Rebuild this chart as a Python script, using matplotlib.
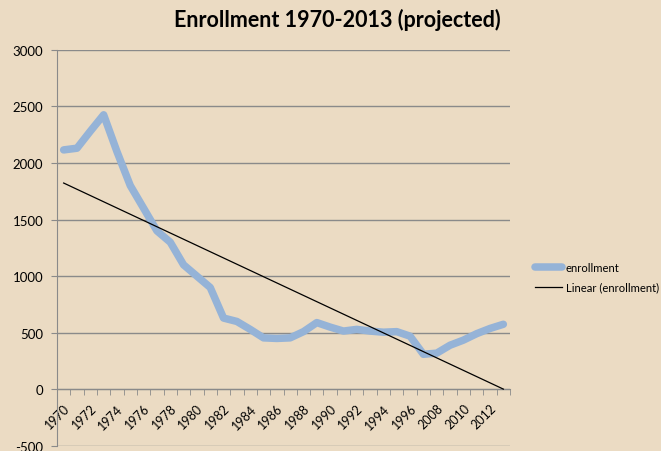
import numpy as np
import matplotlib
matplotlib.use("Agg")
import matplotlib.pyplot as plt
from matplotlib.ticker import FixedLocator

years = [str(y) for y in range(1970, 1997)] + [str(y) for y in range(2007, 2014)]
enrollment = [2115, 2130, 2280, 2425, 2100, 1800, 1600, 1400, 1300, 1100,
              1000, 900, 630, 600, 530, 455, 450, 455, 510, 590,
              550, 515, 530, 515, 505, 510, 470, 310, 320, 390,
              435, 492, 538, 575]
tick_labels = [y if i % 2 == 0 else "" for i, y in enumerate(years)]
yticks = [-500, 0, 500, 1000, 1500, 2000, 2500, 3000]

bg = "#EBDBC3"
blue = "#95B3D7"
grey = "#8A8A8A"
font = "Lato"

fig = plt.figure(figsize=(6.61, 4.52), dpi=100, facecolor=bg)
ax = fig.add_axes([57/661, 5/452, (510-57)/661, (447-50.7)/452])
ax.set_facecolor(bg)

x = np.arange(len(years))
ax.plot(x, enrollment, color=blue, lw=5.4, solid_joinstyle="round",
        solid_capstyle="round", label="enrollment", zorder=3)
coef = np.polyfit(x, enrollment, 1)
ax.plot(x, np.polyval(coef, x), color="black", lw=0.9,
        label="Linear (enrollment)", zorder=4)

ax.set_xlim(-0.5, len(years) - 0.5)
ax.set_ylim(-500, 3000)
ax.set_yticks(yticks)
ax.set_yticklabels([str(v) for v in yticks], fontsize=9.5, family=font)
ax.yaxis.grid(True, color=grey, lw=1)
ax.set_axisbelow(True)

for s in ["top", "right"]:
    ax.spines[s].set_visible(False)
ax.spines["left"].set_color(grey)
ax.spines["bottom"].set_position(("data", 0))
ax.spines["bottom"].set_color(grey)
ax.tick_params(axis="y", length=4, color=grey, pad=6)

ax.set_xticks(x)
ax.set_xticklabels(tick_labels, rotation=45, ha="right",
                   rotation_mode="anchor", fontsize=9, family=font)
ax.xaxis.set_minor_locator(FixedLocator(np.arange(-0.5, len(years), 1)))
ax.tick_params(axis="x", which="major", length=0, pad=9)
ax.tick_params(axis="x", which="minor", length=4, color=grey)

fig.text(337/661, 1 - 20/452, "Enrollment 1970-2013 (projected)",
         ha="center", va="center", fontsize=15.5, fontweight="bold", family=font)

fig.legend(loc="upper left", bbox_to_anchor=(525/661, 1 - 253/452),
           frameon=False, prop={"family": font, "size": 8.1},
           handlelength=2.4, labelspacing=0.75, handletextpad=0.3)

fig.savefig("out.png", dpi=100, facecolor=bg)
